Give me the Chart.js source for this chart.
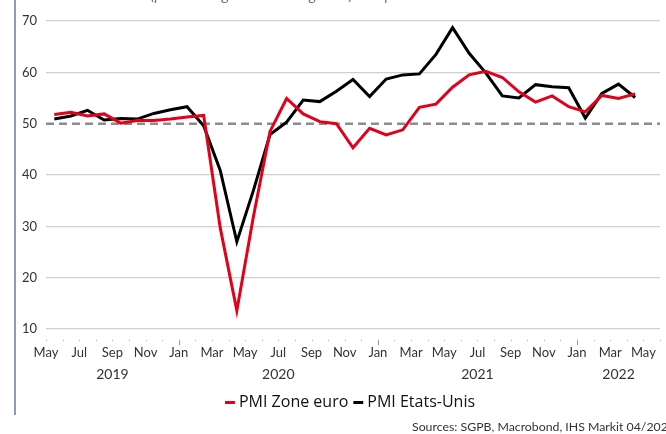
<!DOCTYPE html>
<html>
<head>
<meta charset="utf-8">
<script src="https://cdn.jsdelivr.net/npm/chart.js@4/dist/chart.umd.min.js"></script>
<style>
html,body{margin:0;padding:0;background:#fff;}
#wrap{position:relative;width:666px;height:434px;overflow:hidden;background:#fff;}
#c{position:absolute;left:0;top:0;}
#title{position:absolute;left:70px;top:-14px;font-family:Lato,sans-serif;font-style:italic;font-size:16px;line-height:16px;color:#777;white-space:nowrap;}
#src{position:absolute;left:412px;top:420px;font-family:Lato,sans-serif;font-size:12.3px;line-height:14px;color:#333;white-space:nowrap;}
#vline{position:absolute;left:14px;top:0;width:2px;height:415px;background:#8e9bbb;}
</style>
</head>
<body>
<div id="wrap">
  <canvas id="c" width="666" height="434"></canvas>
  <div id="vline"></div>
  <div id="title">Indices PMI (pourcentage du niveau global) composite</div>
  <div id="src">Sources: SGPB, Macrobond, IHS Markit 04/2022</div>
</div>
<script>
// Month tick labels: May 2019 .. June 2022 (month starts on the axis)
const monthLabels = ['May','Jun','Jul','Aug','Sep','Oct','Nov','Dec',
  'Jan','Feb','Mar','Apr','May','Jun','Jul','Aug','Sep','Oct','Nov','Dec',
  'Jan','Feb','Mar','Apr','May','Jun','Jul','Aug','Sep','Oct','Nov','Dec',
  'Jan','Feb','Mar','Apr','May','Jun'];
const years = ['2019','2020','2021','2022'];
const yearStartIndex = [0, 8, 20, 32];
// Monthly values, May 2019 .. Apr 2022
const euroPMI = [51.8,52.2,51.5,51.9,50.1,50.6,50.6,50.9,
  51.3,51.6,29.7,13.6,31.9,48.5,54.9,51.9,50.4,50.0,45.3,49.1,
  47.8,48.8,53.2,53.8,57.1,59.5,60.2,59.0,56.2,54.2,55.4,53.3,
  52.3,55.5,54.9,55.8];
const usPMI = [50.9,51.5,52.6,50.7,51.0,50.9,52.0,52.7,
  53.3,49.6,40.9,27.0,37.0,47.9,50.3,54.6,54.3,56.3,58.6,55.3,
  58.7,59.5,59.7,63.5,68.7,63.7,59.9,55.4,55.0,57.6,57.2,57.0,
  51.1,55.9,57.7,55.1];
const yTicks = [10,20,30,40,50,60,70];
const refLevel = 50;

const RED = '#e3001b';
const FONT = 'Lato';

const toPoints = arr => arr.map((v, i) => ({x: i + 0.5, y: v}));

const overlay = {
  id: 'overlay',
  afterLayout(chart) {
    // legend is centred on the area right of the left frame line
    if (chart.legend) {
      chart.legend.left = 38;
      chart.legend.adjustHitBoxes && chart.legend.adjustHitBoxes();
    }
  },
  beforeDatasetsDraw(chart) {
    const {ctx, chartArea, scales} = chart;
    const y = scales.y.getPixelForValue(refLevel);
    ctx.save();
    ctx.strokeStyle = '#8c8c8c';
    ctx.lineWidth = 2.5;
    ctx.setLineDash([8, 5]);
    ctx.beginPath();
    ctx.moveTo(chartArea.left, y);
    ctx.lineTo(chartArea.right, y);
    ctx.stroke();
    ctx.restore();
  },
  afterDraw(chart) {
    const {ctx, chartArea, scales} = chart;
    const xs = scales.x;
    ctx.save();
    // month tick marks
    for (let i = 0; i < monthLabels.length; i++) {
      const px = Math.round(xs.getPixelForValue(i)) + 0.5;
      const isJan = yearStartIndex.indexOf(i) > 0;
      ctx.strokeStyle = isJan ? '#999' : '#bbb';
      ctx.lineWidth = 1;
      ctx.beginPath();
      ctx.moveTo(px, chartArea.bottom + 0.5);
      ctx.lineTo(px, chartArea.bottom + (isJan ? 6 : 2));
      ctx.stroke();
    }
    // year labels centered on each year's span
    ctx.fillStyle = '#333';
    ctx.font = '14px ' + FONT;
    ctx.textAlign = 'center';
    ctx.textBaseline = 'middle';
    const maxX = xs.max;
    years.forEach((yr, k) => {
      const s = yearStartIndex[k];
      const e = k + 1 < yearStartIndex.length ? yearStartIndex[k + 1] : maxX;
      const cx = xs.getPixelForValue((s + Math.min(e, maxX)) / 2);
      ctx.fillText(yr, cx, 374);
    });
    ctx.restore();
  }
};

new Chart(document.getElementById('c'), {
  type: 'line',
  data: {
    datasets: [
      {label: 'PMI Zone euro', data: toPoints(euroPMI), borderColor: RED, backgroundColor: RED,
       borderWidth: 3, pointRadius: 0, tension: 0},
      {label: 'PMI Etats-Unis', data: toPoints(usPMI), borderColor: '#000', backgroundColor: '#000',
       borderWidth: 3, pointRadius: 0, tension: 0}
    ]
  },
  options: {
    responsive: false,
    animation: false,
    layout: {padding: {left: 0, top: 21, right: 0, bottom: 13.5}},
    scales: {
      x: {
        type: 'linear', min: 0, max: monthLabels.length - 1,
        afterBuildTicks: s => { s.ticks = monthLabels.map((m, i) => ({value: i})); },
        afterFit: s => { s.height = 46.2; },
        grid: {display: false, drawTicks: false},
        border: {display: false},
        ticks: {
          autoSkip: false, maxRotation: 0, padding: 6,
          color: '#333', font: {family: FONT, size: 13},
          callback: (v, i) => (i % 2 === 0 && i < monthLabels.length - 1) ? monthLabels[i] : ''
        }
      },
      y: {
        min: 8, max: 70,
        afterBuildTicks: s => { s.ticks = yTicks.map(v => ({value: v})); },
        afterFit: s => { s.width = 46; },
        grid: {drawTicks: false, color: c => c.tick && c.tick.value === refLevel ? 'rgba(0,0,0,0)' : '#cfcfcf', lineWidth: 1.2},
        border: {display: false},
        ticks: {padding: 9, color: '#333', font: {family: FONT, size: 13}}
      }
    },
    plugins: {
      legend: {
        position: 'bottom',
        labels: {
          usePointStyle: true, pointStyle: 'line', boxWidth: 2, boxHeight: 7,
          padding: 9, color: '#111', font: {family: 'Open Sans', size: 16}
        }
      },
      tooltip: {enabled: false}
    }
  },
  plugins: [overlay]
});
</script>
</body>
</html>
